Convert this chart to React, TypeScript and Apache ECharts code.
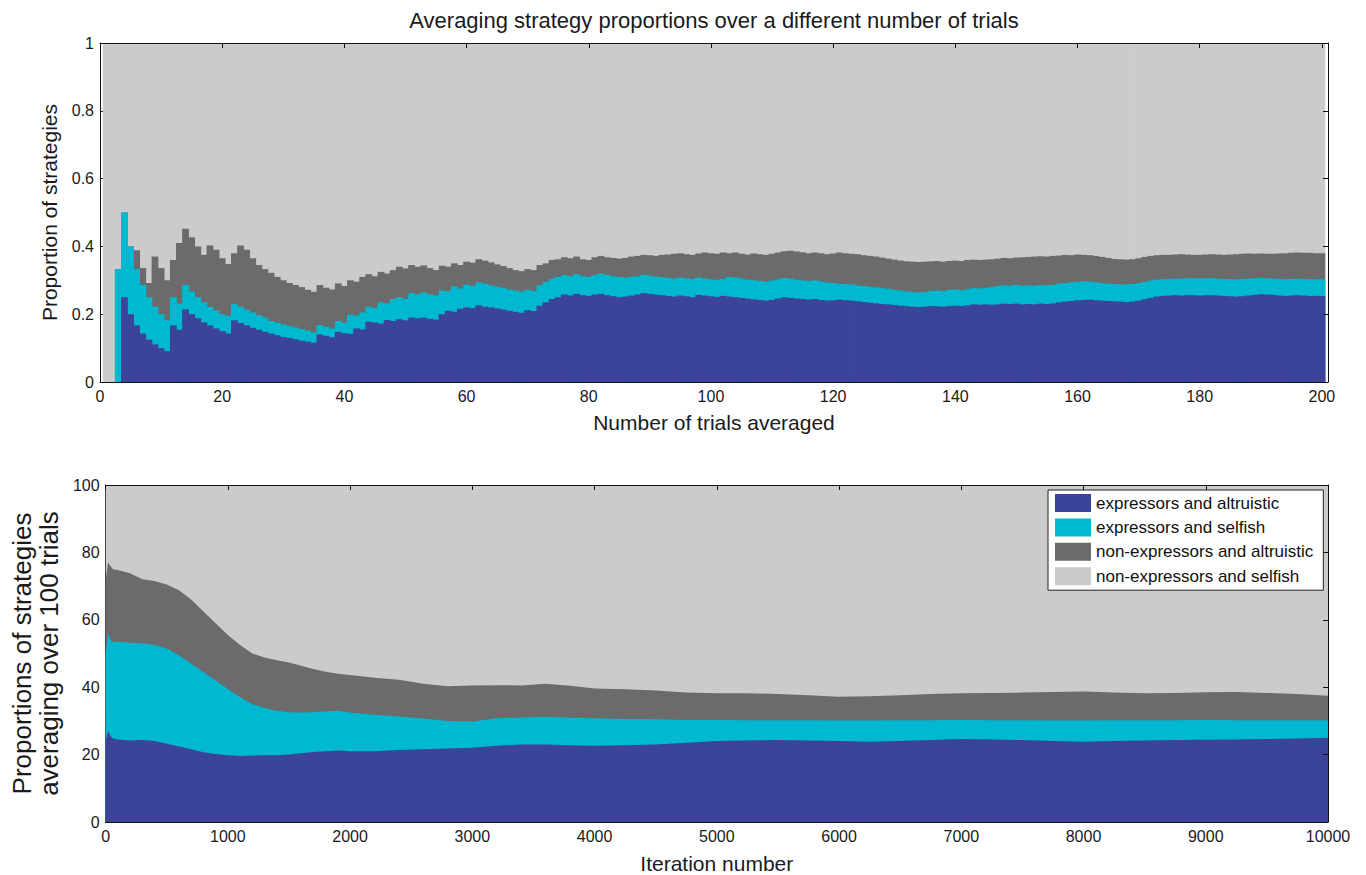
import React, { useEffect, useRef } from 'react';
import * as echarts from 'echarts';

const seriesNames = [
  'expressors and altruistic',
  'expressors and selfish',
  'non-expressors and altruistic',
  'non-expressors and selfish',
];
const seriesColors = ['#3c4499', '#00b8d0', '#6b6b6b', '#cbcbcb'];

// Top panel: cumulative boundaries per number of trials averaged (1..200)
const expAltTop = [
  0, 0, 0, 0.25, 0.2, 0.167, 0.143, 0.125, 0.111, 0.1,
  0.091, 0.167, 0.154, 0.214, 0.2, 0.188, 0.176, 0.167, 0.158, 0.15,
  0.143, 0.182, 0.174, 0.167, 0.16, 0.154, 0.148, 0.143, 0.138, 0.133,
  0.13, 0.126, 0.122, 0.119, 0.116, 0.14, 0.136, 0.132, 0.148, 0.144,
  0.142, 0.158, 0.155, 0.178, 0.175, 0.172, 0.183, 0.18, 0.185, 0.182,
  0.19, 0.188, 0.19, 0.186, 0.184, 0.2, 0.21, 0.207, 0.216, 0.22,
  0.218, 0.226, 0.222, 0.22, 0.217, 0.214, 0.21, 0.207, 0.204, 0.212,
  0.209, 0.225, 0.235, 0.245, 0.25, 0.258, 0.255, 0.26, 0.256, 0.254,
  0.258, 0.26, 0.256, 0.253, 0.25, 0.252, 0.255, 0.258, 0.262, 0.26,
  0.258, 0.256, 0.254, 0.252, 0.255, 0.253, 0.25, 0.257, 0.255, 0.253,
  0.251, 0.254, 0.252, 0.25, 0.248, 0.246, 0.244, 0.242, 0.24, 0.242,
  0.246, 0.25, 0.248, 0.246, 0.245, 0.243, 0.245, 0.242, 0.24, 0.241,
  0.243, 0.241, 0.24, 0.238, 0.236, 0.234, 0.232, 0.23, 0.229, 0.227,
  0.225, 0.224, 0.222, 0.221, 0.222, 0.224, 0.223, 0.222, 0.224, 0.225,
  0.224, 0.226, 0.229, 0.228, 0.229, 0.228, 0.229, 0.231, 0.23, 0.231,
  0.229, 0.23, 0.229, 0.231, 0.23, 0.232, 0.235, 0.237, 0.239, 0.241,
  0.242, 0.243, 0.241, 0.24, 0.239, 0.238, 0.237, 0.236, 0.237, 0.24,
  0.244, 0.248, 0.252, 0.254, 0.255, 0.256, 0.255, 0.256, 0.256, 0.255,
  0.256, 0.256, 0.255, 0.254, 0.253, 0.252, 0.253, 0.255, 0.257, 0.259,
  0.258, 0.257, 0.255, 0.254, 0.255, 0.256, 0.255, 0.254, 0.254, 0.254,
];
const expSelfTop = [
  0, 0, 0.333, 0.5, 0.4, 0.333, 0.286, 0.25, 0.222, 0.2,
  0.182, 0.25, 0.231, 0.286, 0.267, 0.25, 0.235, 0.222, 0.211, 0.2,
  0.195, 0.23, 0.222, 0.213, 0.205, 0.197, 0.19, 0.18, 0.175, 0.17,
  0.165, 0.161, 0.156, 0.152, 0.146, 0.168, 0.163, 0.158, 0.18, 0.175,
  0.198, 0.195, 0.205, 0.222, 0.218, 0.235, 0.232, 0.245, 0.25, 0.245,
  0.262, 0.258, 0.264, 0.258, 0.255, 0.27, 0.268, 0.282, 0.276, 0.287,
  0.283, 0.294, 0.29, 0.285, 0.281, 0.277, 0.273, 0.27, 0.266, 0.272,
  0.268, 0.285, 0.295, 0.305, 0.31, 0.315, 0.312, 0.318, 0.312, 0.31,
  0.315, 0.32, 0.316, 0.312, 0.31, 0.308, 0.31, 0.312, 0.316, 0.314,
  0.311, 0.309, 0.307, 0.305, 0.308, 0.306, 0.304, 0.308, 0.305, 0.303,
  0.301, 0.304, 0.31, 0.308, 0.305, 0.302, 0.3, 0.298, 0.296, 0.299,
  0.303, 0.307, 0.305, 0.302, 0.3, 0.298, 0.3, 0.297, 0.294, 0.292,
  0.29, 0.289, 0.288, 0.285, 0.283, 0.281, 0.279, 0.277, 0.275, 0.272,
  0.27, 0.267, 0.265, 0.264, 0.265, 0.268, 0.27, 0.268, 0.272, 0.273,
  0.271, 0.274, 0.277, 0.276, 0.278, 0.28, 0.283, 0.285, 0.284, 0.286,
  0.284, 0.285, 0.284, 0.286, 0.285, 0.287, 0.29, 0.292, 0.294, 0.296,
  0.297, 0.296, 0.294, 0.292, 0.29, 0.289, 0.288, 0.288, 0.289, 0.292,
  0.295, 0.299, 0.302, 0.303, 0.304, 0.305, 0.305, 0.306, 0.306, 0.305,
  0.306, 0.306, 0.305, 0.304, 0.303, 0.303, 0.304, 0.305, 0.306, 0.307,
  0.306, 0.305, 0.304, 0.303, 0.304, 0.305, 0.304, 0.303, 0.303, 0.303,
];
const nonExpAltTop = [
  0, 0, 0.333, 0.5, 0.4, 0.389, 0.336, 0.292, 0.37, 0.336,
  0.3, 0.36, 0.41, 0.452, 0.427, 0.4, 0.375, 0.403, 0.39, 0.365,
  0.348, 0.38, 0.403, 0.39, 0.365, 0.345, 0.333, 0.322, 0.31, 0.3,
  0.292, 0.286, 0.28, 0.272, 0.266, 0.286, 0.278, 0.273, 0.291, 0.283,
  0.3, 0.296, 0.31, 0.318, 0.312, 0.325, 0.32, 0.33, 0.34, 0.335,
  0.345, 0.34, 0.344, 0.336, 0.33, 0.343, 0.34, 0.35, 0.345, 0.355,
  0.352, 0.362, 0.358, 0.353, 0.347, 0.342, 0.336, 0.33, 0.327, 0.333,
  0.33, 0.345, 0.35, 0.36, 0.362, 0.368, 0.365, 0.37, 0.362, 0.36,
  0.368, 0.372, 0.368, 0.366, 0.364, 0.366, 0.37, 0.372, 0.375, 0.374,
  0.372, 0.375, 0.376, 0.378, 0.38, 0.377, 0.375, 0.379, 0.382, 0.38,
  0.378, 0.382, 0.38, 0.382, 0.378, 0.376, 0.379, 0.377, 0.375, 0.378,
  0.382, 0.386, 0.387, 0.385, 0.383, 0.38, 0.382, 0.38, 0.377, 0.379,
  0.382, 0.38, 0.378, 0.377, 0.374, 0.372, 0.37, 0.367, 0.364, 0.361,
  0.358, 0.356, 0.355, 0.354, 0.355, 0.356, 0.357, 0.355, 0.357, 0.358,
  0.357, 0.36, 0.361, 0.36, 0.361, 0.362, 0.364, 0.366, 0.365, 0.367,
  0.368, 0.369, 0.37, 0.371, 0.37, 0.372, 0.373, 0.375, 0.374, 0.376,
  0.375, 0.374, 0.372, 0.369, 0.366, 0.363, 0.362, 0.361, 0.362, 0.365,
  0.369, 0.372, 0.374, 0.375, 0.375, 0.376, 0.377, 0.376, 0.375, 0.375,
  0.376, 0.377, 0.376, 0.375, 0.376, 0.377, 0.378, 0.379, 0.378, 0.379,
  0.378, 0.378, 0.379, 0.38, 0.381, 0.382, 0.381, 0.381, 0.38, 0.38,
];

// Bottom panel: cumulative boundaries (%) over iterations
const iterations = [
  1, 20, 40, 60,
  100, 200, 300, 400, 500, 600, 700, 800, 900, 1000,
  1100, 1200, 1300, 1400, 1500, 1600, 1700, 1800, 1900, 2000,
  2200, 2400, 2600, 2800, 3000, 3200, 3400, 3600, 3800, 4000,
  4250, 4500, 4750, 5000, 5250, 5500, 5750, 6000, 6250, 6500,
  6750, 7000, 7250, 7500, 7750, 8000, 8250, 8500, 8750, 9000,
  9250, 9500, 9750, 10000,
];
const iterExpAltTop = [
  24, 27, 25.5, 24.8,
  24.5, 24.2, 24.3, 24, 23.2, 22.4, 21.6, 20.7, 20.2, 19.8,
  19.6, 19.7, 19.8, 19.8, 20, 20.4, 20.8, 21, 21.2, 21,
  21, 21.4, 21.6, 21.8, 22, 22.6, 23, 23, 22.8, 22.6,
  22.8, 23, 23.5, 24, 24.2, 24.3, 24.2, 24, 23.8, 24,
  24.3, 24.6, 24.5, 24.3, 24, 23.8, 24, 24.2, 24.3, 24.4,
  24.5, 24.6, 24.8, 25,
];
const iterExpSelfTop = [
  50, 56, 54, 53.5,
  53.5, 53.2, 53, 52.5, 51.5, 49.5, 47, 44.5, 42, 39.5,
  37, 35, 33.8, 33, 32.6, 32.5, 32.6, 32.9, 33, 32.5,
  31.8, 31.3, 30.7, 30, 29.8, 30.8, 31, 31.2, 30.9, 30.8,
  30.6, 30.5, 30.3, 30.3, 30.2, 30.2, 30.2, 30.1, 30.1, 30.2,
  30.2, 30.3, 30.2, 30.2, 30.1, 30.1, 30.2, 30.2, 30.2, 30.3,
  30.2, 30.2, 30.2, 30.2,
];
const iterNonExpAltTop = [
  72, 77, 76, 75,
  74.8, 73.8, 72, 71.5, 70.5, 68.8, 66, 62.5, 59, 55.5,
  52.5, 50, 48.8, 48, 47.3, 46.4, 45.4, 44.6, 44, 43.6,
  42.8, 42.2, 41, 40.3, 40.5, 40.6, 40.5, 41, 40.4, 39.6,
  39.4, 39, 38.4, 38.2, 38.2, 38, 37.6, 37.2, 37.3, 37.6,
  38, 38.2, 38.3, 38.4, 38.6, 38.7, 38.4, 38.2, 38.3, 38.5,
  38.6, 38.3, 38, 37.5,
];

const FONT = '"Liberation Sans", Arial, Helvetica, sans-serif';
const TXT = '#1a1a1a';

export default function App() {
  const ref = useRef<HTMLDivElement>(null);

  useEffect(() => {
    if (!ref.current) return;
    const chart = echarts.init(ref.current, null, { renderer: 'svg' });

    const trialNumbers = expAltTop.map((_, i) => i + 1);
    const topLayers = [expAltTop, expSelfTop, nonExpAltTop, expAltTop.map(() => 1)];
    const bottomLayers = [iterExpAltTop, iterExpSelfTop, iterNonExpAltTop, iterations.map(() => 100)];

    const series: any[] = [];
    for (let s = 3; s >= 0; s--) {
      const color = seriesColors[s];
      series.push({
        name: seriesNames[s],
        type: 'custom',
        xAxisIndex: 0,
        yAxisIndex: 0,
        data: topLayers[s].map((v, i) => [trialNumbers[i], v]),
        encode: { x: 0, y: 1 },
        itemStyle: { color },
        silent: true,
        renderItem: (_params: any, api: any) => {
          const x = api.value(0);
          const v = api.value(1);
          const p0 = api.coord([x - 0.5, v]);
          const p1 = api.coord([x + 0.5, 0]);
          return {
            type: 'rect',
            shape: {
              x: p0[0] - 0.35,
              y: p0[1],
              width: p1[0] - p0[0] + 0.7,
              height: p1[1] - p0[1],
            },
            style: { fill: color },
          };
        },
      });
    }
    for (let s = 3; s >= 0; s--) {
      const color = seriesColors[s];
      series.push({
        name: seriesNames[s],
        type: 'line',
        xAxisIndex: 2,
        yAxisIndex: 2,
        data: bottomLayers[s].map((v, i) => [iterations[i], v]),
        symbol: 'none',
        showSymbol: false,
        color,
        lineStyle: { width: 0, color },
        itemStyle: { color },
        areaStyle: { color, opacity: 1 },
        silent: true,
      });
    }

    const labelStyle = { fontFamily: FONT, fontSize: 16, color: TXT };
    const nameStyle = { fontFamily: FONT, fontSize: 21, color: TXT };
    const lineStyle = { color: '#111', width: 1 };

    const mirrorX = (grid: number, min: number, max: number, interval: number) => ({
      type: 'value', gridIndex: grid, position: 'top', min, max, interval,
      axisLine: { show: true, onZero: false, lineStyle },
      axisTick: { show: true, inside: true, length: 5, lineStyle },
      axisLabel: { show: false }, splitLine: { show: false }, z: 3,
    });
    const mirrorY = (grid: number, min: number, max: number, interval: number) => ({
      type: 'value', gridIndex: grid, position: 'right', min, max, interval,
      axisLine: { show: true, onZero: false, lineStyle },
      axisTick: { show: true, inside: true, length: 5, lineStyle },
      axisLabel: { show: false }, splitLine: { show: false }, z: 3,
    });

    chart.setOption({
      animation: false,
      backgroundColor: '#ffffff',
      textStyle: { fontFamily: FONT },
      graphic: [
        {
          type: 'text',
          x: 714,
          y: 20,
          style: {
            text: 'Averaging strategy proportions over a different number of trials',
            font: `normal 22px ${FONT}`,
            fill: TXT,
            align: 'center',
            textAlign: 'center',
            verticalAlign: 'middle',
            textVerticalAlign: 'middle',
          },
        },
      ],
      legend: {
        data: seriesNames,
        orient: 'vertical',
        left: 1048,
        top: 490,
        itemWidth: 36,
        itemHeight: 18,
        itemGap: 6.4,
        icon: 'rect',
        selectedMode: false,
        backgroundColor: '#ffffff',
        borderColor: '#222',
        borderWidth: 1,
        padding: [4, 10, 5, 7],
        textStyle: { fontFamily: FONT, fontSize: 17, color: '#111' },
      },
      grid: [
        { left: 100, top: 43, width: 1228, height: 339, containLabel: false },
        { left: 100, top: 485, width: 1228, height: 337, containLabel: false },
      ],
      xAxis: [
        {
          type: 'value', gridIndex: 0, position: 'bottom', min: 0, max: 201, interval: 20,
          axisLine: { show: true, onZero: false, lineStyle },
          axisTick: { show: true, inside: true, length: 5, lineStyle },
          axisLabel: { ...labelStyle, margin: 6, formatter: (v: number) => (v % 20 === 0 ? String(v) : '') },
          splitLine: { show: false },
          name: 'Number of trials averaged', nameLocation: 'middle', nameGap: 30, nameTextStyle: nameStyle,
        },
        mirrorX(0, 0, 201, 20),
        {
          type: 'value', gridIndex: 1, position: 'bottom', min: 0, max: 10000, interval: 1000,
          axisLine: { show: true, onZero: false, lineStyle },
          axisTick: { show: true, inside: true, length: 5, lineStyle },
          axisLabel: { ...labelStyle, margin: 6, formatter: (v: number) => String(v) },
          splitLine: { show: false },
          name: 'Iteration number', nameLocation: 'middle', nameGap: 31, nameTextStyle: nameStyle,
        },
        mirrorX(1, 0, 10000, 1000),
      ],
      yAxis: [
        {
          type: 'value', gridIndex: 0, position: 'left', min: 0, max: 1, interval: 0.2,
          axisLine: { show: true, onZero: false, lineStyle },
          axisTick: { show: true, inside: true, length: 5, lineStyle },
          axisLabel: { ...labelStyle, margin: 6 },
          splitLine: { show: false },
          name: 'Proportion of strategies', nameLocation: 'middle', nameGap: 40, nameTextStyle: nameStyle,
        },
        mirrorY(0, 0, 1, 0.2),
        {
          type: 'value', gridIndex: 1, position: 'left', min: 0, max: 100, interval: 20,
          axisLine: { show: true, onZero: false, lineStyle },
          axisTick: { show: true, inside: true, length: 5, lineStyle },
          axisLabel: { ...labelStyle, margin: 6, formatter: (v: number) => String(v) },
          splitLine: { show: false },
          name: 'Proportions of strategies\naveraging over 100 trials', nameLocation: 'middle', nameGap: 39,
          nameTextStyle: { ...nameStyle, fontSize: 26, lineHeight: 27 },
        },
        mirrorY(1, 0, 100, 20),
      ],
      series,
    });

    return () => chart.dispose();
  }, []);

  return (
    <div
      ref={ref}
      style={{ position: 'fixed', left: 0, top: 0, width: 1366, height: 875, background: '#fff' }}
    />
  );
}
